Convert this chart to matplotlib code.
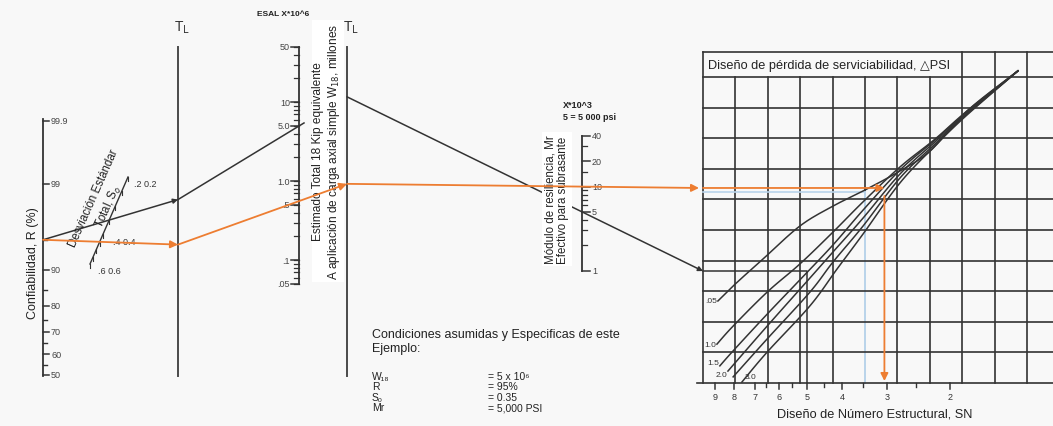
import numpy as np
import matplotlib.pyplot as plt
from statistics import NormalDist

plt.rcParams['font.family'] = ['Liberation Sans', 'DejaVu Sans']

rel_major = [99.9, 99, 90, 80, 70, 60, 50]
rel_minor = [95, 85, 75, 65, 55]
s0_labels = [0.2, 0.4, 0.6]
s0_ticks = [0.2, 0.25, 0.3, 0.35, 0.4, 0.45, 0.5, 0.55, 0.6]
esal_major = [50, 10, 5.0, 1.0, 0.5, 0.1, 0.05]
esal_text = ['50', '10', '5.0', '1.0', '.5', '.1', '.05']
mr_major = [40, 20, 10, 5, 1]
mr_minor = [30, 15, 9, 8, 7, 6, 4, 3, 2]
sn_major = [9, 8, 7, 6, 5, 4, 3, 2]
sn_minor = [6.5, 5.5, 4.5, 3.5, 2.5]

# design serviceability loss curves, in grid cells (column, row from bottom)
psi_names = ['.05', '1.0', '1.5', '2.0', '', '3.0']
psi_cols = [
    [0.46, 0.93, 1.51, 1.85, 2.99, 4.01, 5.06, 6.08, 7.01, 8.15, 9.72],
    [0.43, 0.93, 1.98, 2.99, 4.01, 4.94, 6.08, 7.16, 8.15, 9.72],
    [0.52, 0.93, 1.98, 2.99, 4.01, 4.94, 6.08, 7.16, 8.15, 9.72],
    [0.77, 1.98, 3.30, 4.01, 4.94, 6.08, 7.16, 8.15, 9.72],
    [0.93, 1.98, 3.30, 4.01, 4.94, 6.08, 7.16, 8.15, 9.72],
    [1.20, 1.98, 3.30, 4.14, 4.94, 6.08, 7.16, 8.15, 9.72],
]
psi_rows = [
    [2.68, 3.17, 3.73, 4.05, 5.13, 5.78, 6.34, 6.93, 7.58, 8.89, 10.20],
    [1.27, 1.86, 2.97, 3.89, 4.93, 5.92, 7.06, 7.97, 8.89, 10.20],
    [0.56, 1.05, 2.25, 3.37, 4.51, 5.65, 6.96, 7.94, 8.86, 10.20],
    [0.39, 1.86, 3.43, 4.28, 5.39, 6.83, 7.88, 8.82, 10.20],
    [0.20, 1.44, 2.97, 3.95, 5.13, 6.70, 7.81, 8.79, 10.20],
    [0.03, 1.01, 2.52, 3.73, 4.87, 6.54, 7.75, 8.76, 10.20],
]

# the two worked paths (black = printed example, orange = drawn over it)
black_path = dict(R=95, S0=0.35, W18=5.0, Mr=5.0, SN=5.0)
orange_path = dict(R=95, S0=0.45, W18=0.56, Mr=10, SN=3.05)

cond_names = ['W₁₈', 'R', 'Sₒ', 'Mr']
cond_values = ['= 5 x 10⁶', '= 95%', '= 0.35', '= 5,000 PSI']

# ---- layout (pixels) ----
R_X, R_Y50, R_PX = 43, 376, 82.2
S0_TOP, S0_BOT, S0_T = np.array([128, 178]), np.array([90, 265]), [0, 0.66, 1.0]
TL1_X, TL2_X = 178, 347
ESAL_X, ESAL_Y50, ESAL_DEC = 299, 48, 79
MR_X, MR_Y40, MR_DEC = 582, 137, 84
GX0, GCOL, GY0, GROW, GTOP = 703, 32.4, 384, 30.6, 53
SN_X3, SN_DEC = 887, 360

INK = '#333333'
ORANGE = '#ed7d31'


def y_rel(r):
    return R_Y50 - NormalDist().inv_cdf(r / 100) * R_PX


def s0_pt(v):
    t = np.interp(v, s0_labels, S0_T)
    return S0_TOP + t * (S0_BOT - S0_TOP)


def y_esal(w):
    return ESAL_Y50 + (np.log10(50) - np.log10(w)) * ESAL_DEC


def y_mr(m):
    return MR_Y40 + (np.log10(40) - np.log10(m)) * MR_DEC


def x_sn(sn):
    return SN_X3 - SN_DEC * np.log10(sn / 3)


def gx(c):
    return GX0 + GCOL * np.asarray(c)


def gy(r):
    return GY0 - GROW * np.asarray(r)


def extend(p1, p2, x):
    return p1[1] + (p2[1] - p1[1]) * (x - p1[0]) / (p2[0] - p1[0])


def smooth(pts, n=14):
    p = np.vstack([pts[0], pts, pts[-1]])
    out = []
    t = np.linspace(0, 1, n, endpoint=False)[:, None]
    for i in range(1, len(p) - 2):
        p0, p1, p2, p3 = p[i - 1], p[i], p[i + 1], p[i + 2]
        out.append(0.5 * (2 * p1 + (-p0 + p2) * t + (2 * p0 - 5 * p1 + 4 * p2 - p3) * t ** 2
                          + (-p0 + 3 * p1 - 3 * p2 + p3) * t ** 3))
    out.append(p[-2][None])
    return np.vstack(out)


def arrow(ax, a, b, color, lw=1.3, ms=10, z=5):
    ax.annotate('', xy=b, xytext=a, annotation_clip=False,
                arrowprops=dict(arrowstyle='-|>', color=color, lw=lw, mutation_scale=ms,
                                shrinkA=0, shrinkB=0), zorder=z)


fig = plt.figure(figsize=(10.53, 4.27), dpi=100, facecolor='#f8f8f8')
ax = fig.add_axes([0, 0, 1, 1])
ax.set_xlim(0, 1053)
ax.set_ylim(427, 0)
ax.axis('off')

# reliability scale
ax.plot([R_X, R_X], [y_rel(99.9) - 2, y_rel(50) + 1], color=INK, lw=1.3)
for r in rel_major:
    ax.plot([R_X, R_X + 6], [y_rel(r)] * 2, color=INK, lw=1.1)
    ax.text(R_X + 8, y_rel(r), f'{r:g}', fontsize=6.5, color='#444', va='center', ha='left')
for r in rel_minor:
    ax.plot([R_X, R_X + 4], [y_rel(r)] * 2, color=INK, lw=1.0)
ax.text(33, 263, 'Confiabilidad, R (%)', rotation=90, fontsize=9, ha='center', va='center', color='#222')

# standard deviation scale
ax.plot([S0_TOP[0], S0_BOT[0]], [S0_TOP[1], S0_BOT[1]], color=INK, lw=1.0)
for v in s0_ticks:
    p = s0_pt(v)
    ax.plot([p[0], p[0]], [p[1], p[1] + 4], color=INK, lw=0.8)
for v, dx in zip(s0_labels, (6, 10, 8)):
    p = s0_pt(v)
    ax.text(p[0] + dx, p[1] + 7, f'{v:g}'.lstrip('0') + ' ' + f'{v:g}', fontsize=6.5, color='#333',
            ha='left', va='center')
ax.text(94, 199, 'Desviación Estándar', rotation=66, fontsize=8.3, ha='center', va='center', color='#222')
ax.text(109, 207, 'Total, S$_o$', rotation=66, fontsize=8.3, ha='center', va='center', color='#222')

# turning lines
for x in (TL1_X, TL2_X):
    ax.plot([x, x], [48, 377], color='#4a4a4a', lw=1.4)
    ax.text(x + 4, 28, r'T$_\mathrm{L}$', fontsize=10, ha='center', va='center', color='#333')

# ESAL scale
ax.plot([ESAL_X, ESAL_X], [y_esal(50), y_esal(0.05)], color=INK, lw=1.3)
for e in range(-2, 2):
    for k in range(1, 10):
        w = k * 10.0 ** e
        if 0.05 <= w <= 50:
            ax.plot([ESAL_X - 5, ESAL_X], [y_esal(w)] * 2, color=INK, lw=0.9)
for w, s in zip(esal_major, esal_text):
    ax.plot([ESAL_X - 8, ESAL_X], [y_esal(w)] * 2, color=INK, lw=1.1)
    ax.text(ESAL_X - 9, y_esal(w), s, fontsize=6.5, color='#444', ha='right', va='center')
ax.text(283, 15, 'ESAL X*10^6', fontsize=6, fontweight='bold', ha='center', va='center', color='#222')
ax.text(327, 152, 'Estimado Total 18 Kip equivalente\nA aplicación de carga axial simple W$_{18}$, millones',
        rotation=90, fontsize=8.6, ha='center', va='center', multialignment='center', linespacing=1.1,
        color='#222', bbox=dict(fc='white', ec='none', pad=2), zorder=3)

# resilient modulus scale
ax.plot([MR_X, MR_X], [y_mr(40), y_mr(1)], color=INK, lw=1.3)
for m in mr_minor:
    ax.plot([MR_X, MR_X + 5], [y_mr(m)] * 2, color=INK, lw=0.9)
for m in mr_major:
    ax.plot([MR_X, MR_X + 8], [y_mr(m)] * 2, color=INK, lw=1.1)
    ax.text(MR_X + 10, y_mr(m), f'{m:g}', fontsize=6.5, color='#444', ha='left', va='center')
ax.text(563, 105, 'X*10^3', fontsize=6.5, fontweight='bold', ha='left', va='center', color='#222')
ax.text(563, 118, '5 = 5 000 psi', fontsize=6.5, fontweight='bold', ha='left', va='center', color='#222')
ax.text(557, 200, 'Módulo de resiliencia, Mr\nEfectivo para subrasante', rotation=90, fontsize=8.3,
        ha='center', va='center', multialignment='center', linespacing=1.1, color='#222',
        bbox=dict(fc='white', ec='none', pad=2), zorder=3)

# design chart grid
for k in range(11):
    top = GTOP if k in (0, 8, 9, 10) else gy(10)
    if k == 5:
        ax.plot([gx(k)] * 2, [top, 195], color=INK, lw=1.2)
        ax.plot([gx(k)] * 2, [193, GY0], color='#b9d3ea', lw=1.4)
    else:
        ax.plot([gx(k)] * 2, [top, GY0], color=INK, lw=1.2)
for r in range(11):
    ax.plot([GX0 - (6 if r == 0 else 0), 1060], [gy(r)] * 2, color=INK, lw=1.2)
ax.plot([GX0, 1060], [GTOP, GTOP], color=INK, lw=1.2)
ax.plot([GX0, gx(5)], [193, 193], color='#b9d3ea', lw=1.2)
ax.text(GX0 + 5, (GTOP + gy(10)) / 2, 'Diseño de pérdida de serviciabilidad, △PSI',
        fontsize=9.2, ha='left', va='center', color='#222')

label_dy = {'.05': 0, '1.0': 0, '1.5': -3, '2.0': 3}
for name, cols, rows in zip(psi_names, psi_cols, psi_rows):
    pts = smooth(np.column_stack([gx(cols), gy(rows)]))
    ax.plot(pts[:, 0], pts[:, 1], color=INK, lw=1.1, zorder=4)
    if name == '3.0':
        ax.text(pts[0, 0] + 3, pts[0, 1] - 6, name, fontsize=6, ha='left', va='center', color='#333')
    elif name:
        ax.text(pts[0, 0] - 1, pts[0, 1] + label_dy[name], name, fontsize=6, ha='right', va='center',
                color='#333')

# structural number axis
for sn in sn_major:
    ax.plot([x_sn(sn)] * 2, [GY0, GY0 + 6], color=INK, lw=1.1)
    ax.text(x_sn(sn), GY0 + 14, f'{sn:g}', fontsize=6.5, ha='center', va='center', color='#333')
for sn in sn_minor:
    ax.plot([x_sn(sn)] * 2, [GY0, GY0 + 4], color=INK, lw=1.0)
ax.text(875, 415, 'Diseño de Número Estructural, SN', fontsize=9.2, ha='center', va='center', color='#222')

# worked example paths
for path, color, lw, ms, z in ((black_path, INK, 1.1, 7, 2), (orange_path, ORANGE, 1.3, 11, 6)):
    pr = (R_X, y_rel(path['R']))
    ps = s0_pt(path['S0'])
    t1 = (TL1_X, extend(pr, ps, TL1_X))
    pe = (ESAL_X, y_esal(path['W18']))
    t2 = (TL2_X, extend(t1, pe, TL2_X))
    pm = (MR_X, y_mr(path['Mr']))
    g_in = (GX0, extend(t2, pm, GX0))
    xs = x_sn(path['SN'])
    arrow(ax, pr, t1, color, lw, ms, z)
    if color == INK:
        ax.plot([t1[0], pe[0] + 5], [t1[1], extend(t1, pe, pe[0] + 5)], color=color, lw=lw, zorder=z)
        arrow(ax, t2, g_in, color, lw, ms, z)
        ax.plot([GX0, xs, xs], [g_in[1], g_in[1], GY0], color=color, lw=lw, zorder=z)
    else:
        arrow(ax, t1, t2, color, lw, ms, z)
        arrow(ax, t2, (GX0 - 4, g_in[1]), color, lw, ms, z)
        arrow(ax, (GX0, g_in[1]), (xs, g_in[1]), color, lw, ms, z)
        arrow(ax, (xs, g_in[1] + 8), (xs, GY0 - 2), color, lw, ms, z)

# example conditions
ax.text(372, 338, 'Condiciones asumidas y Especificas de este', fontsize=9, va='baseline', color='#222')
ax.text(372, 352, 'Ejemplo:', fontsize=9, va='baseline', color='#222')
for i, (n, v) in enumerate(zip(cond_names, cond_values)):
    ax.text(372, 380 + 10.5 * i, n, fontsize=7.5, va='baseline', color='#222')
    ax.text(488, 380 + 10.5 * i, v, fontsize=7.5, va='baseline', color='#222')

fig.savefig('out.png', dpi=100, facecolor=fig.get_facecolor())
